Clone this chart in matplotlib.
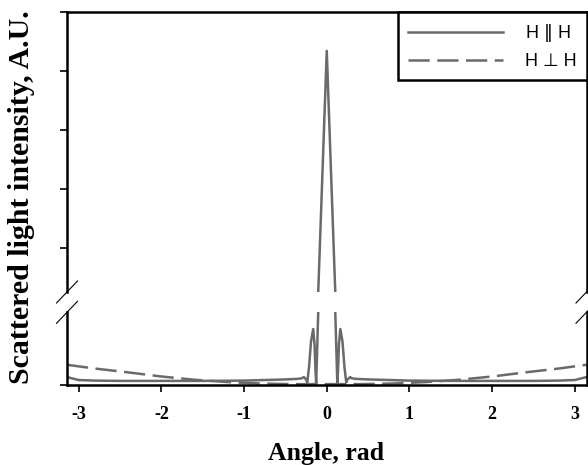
import numpy as np
import matplotlib
matplotlib.use('Agg')
import matplotlib.pyplot as plt

# angle, rad
angle = [-3.1416, -3.0, -2.8, -2.5, -2.0, -1.5, -1.0, -0.5, -0.35, -0.30, -0.277,
         -0.25, -0.236, -0.215, -0.19, -0.164, -0.148, -0.136, -0.128, -0.103,
         -0.05, 0.0,
         0.05, 0.103, 0.128, 0.136, 0.148, 0.164, 0.19, 0.215, 0.236, 0.25,
         0.285, 0.30, 0.35, 0.5, 1.0, 1.5, 2.0, 2.5, 2.8, 3.0, 3.1416]
h_par = [0.028, 0.018, 0.016, 0.015, 0.015, 0.015, 0.016, 0.020, 0.022, 0.024, 0.028,
         0.020, 0.010, 0.060, 0.150, 0.192, 0.140, 0.050, 0.005, 0.25,
         2.35, 4.34,
         2.35, 0.25, 0.005, 0.050, 0.140, 0.192, 0.150, 0.060, 0.010, 0.020,
         0.028, 0.024, 0.022, 0.020, 0.016, 0.015, 0.015, 0.015, 0.016, 0.018, 0.028]

angle_perp = [-3.1416, -2.8, -2.4, -2.0, -1.6, -1.2, -0.8, -0.4, 0.0,
              0.4, 0.8, 1.2, 1.6, 2.0, 2.4, 2.8, 3.1416]
h_perp = [0.070, 0.057, 0.044, 0.030, 0.019, 0.011, 0.006, 0.004, 0.004,
          0.004, 0.006, 0.011, 0.019, 0.030, 0.044, 0.057, 0.070]

xticks = [-3, -2, -1, 0, 1, 2, 3]
upper_yticks = [1, 2, 3, 4, 5]

grey = '#6a6a6a'
W, H = 588, 465

fig = plt.figure(figsize=(5.88, 4.65), dpi=100)
left, right = 67 / W, 586.5 / W
ax_top = fig.add_axes([left, 1 - 292 / H, right - left, (292 - 12) / H])
ax_bot = fig.add_axes([left, 1 - 385.3 / H, right - left, (385.3 - 312) / H])

for ax in (ax_top, ax_bot):
    ax.plot(angle, h_par, color=grey, lw=1.8, label=r'H $\|$ H')
    ax.plot(angle_perp, h_perp, color=grey, lw=1.8, dashes=(8.5, 3), label='H \u22a5 H')
    ax.set_xlim(-np.pi, np.pi)
    for s in ax.spines.values():
        s.set_linewidth(1.8)
    ax.tick_params(direction='out', length=5, width=1.2, color='black')

ax_top.set_ylim(0.25, 5)
ax_top.set_yticks(upper_yticks)
ax_top.set_yticklabels([])
ax_top.set_xticks([])
ax_top.spines['bottom'].set_visible(False)

ax_bot.set_ylim(0, 0.25)
ax_bot.set_yticks([0])
ax_bot.set_yticklabels([])
ax_bot.spines['top'].set_visible(False)
ax_bot.set_xticks(xticks)
ax_bot.set_xticklabels([str(t) for t in xticks], fontfamily='Liberation Serif',
                       fontweight='bold', fontsize=13)
ax_bot.tick_params(axis='x', pad=10)

leg = ax_top.legend(loc='upper right', bbox_to_anchor=(1, 1), borderaxespad=0,
                    fancybox=False, edgecolor='black', framealpha=1,
                    handlelength=5.3, handletextpad=1.2, labelspacing=0.5,
                    borderpad=0.55,
                    prop={'family': ['Liberation Sans', 'DejaVu Sans'], 'size': 13})
leg.get_frame().set_linewidth(1.8)

# break marks on both sides
dx, dy = 10.5 / W, 11 / H
for yb in (292, 312.3):
    yf = 1 - yb / H
    for xf in (left, right):
        fig.add_artist(plt.Line2D([xf - dx, xf + dx], [yf - dy, yf + dy],
                                  color='black', lw=0.8, transform=fig.transFigure))

fig.text(22 / W, 1 - 197 / H, 'Scattered light intensity, A.U.', rotation=90,
         ha='center', va='center', fontfamily='Liberation Serif',
         fontweight='bold', fontsize=21.5)
fig.text(326 / W, 1 - 453 / H, 'Angle, rad', ha='center', va='center',
         fontfamily='Liberation Serif', fontweight='bold', fontsize=18.5)

fig.savefig('out.png', dpi=100)
